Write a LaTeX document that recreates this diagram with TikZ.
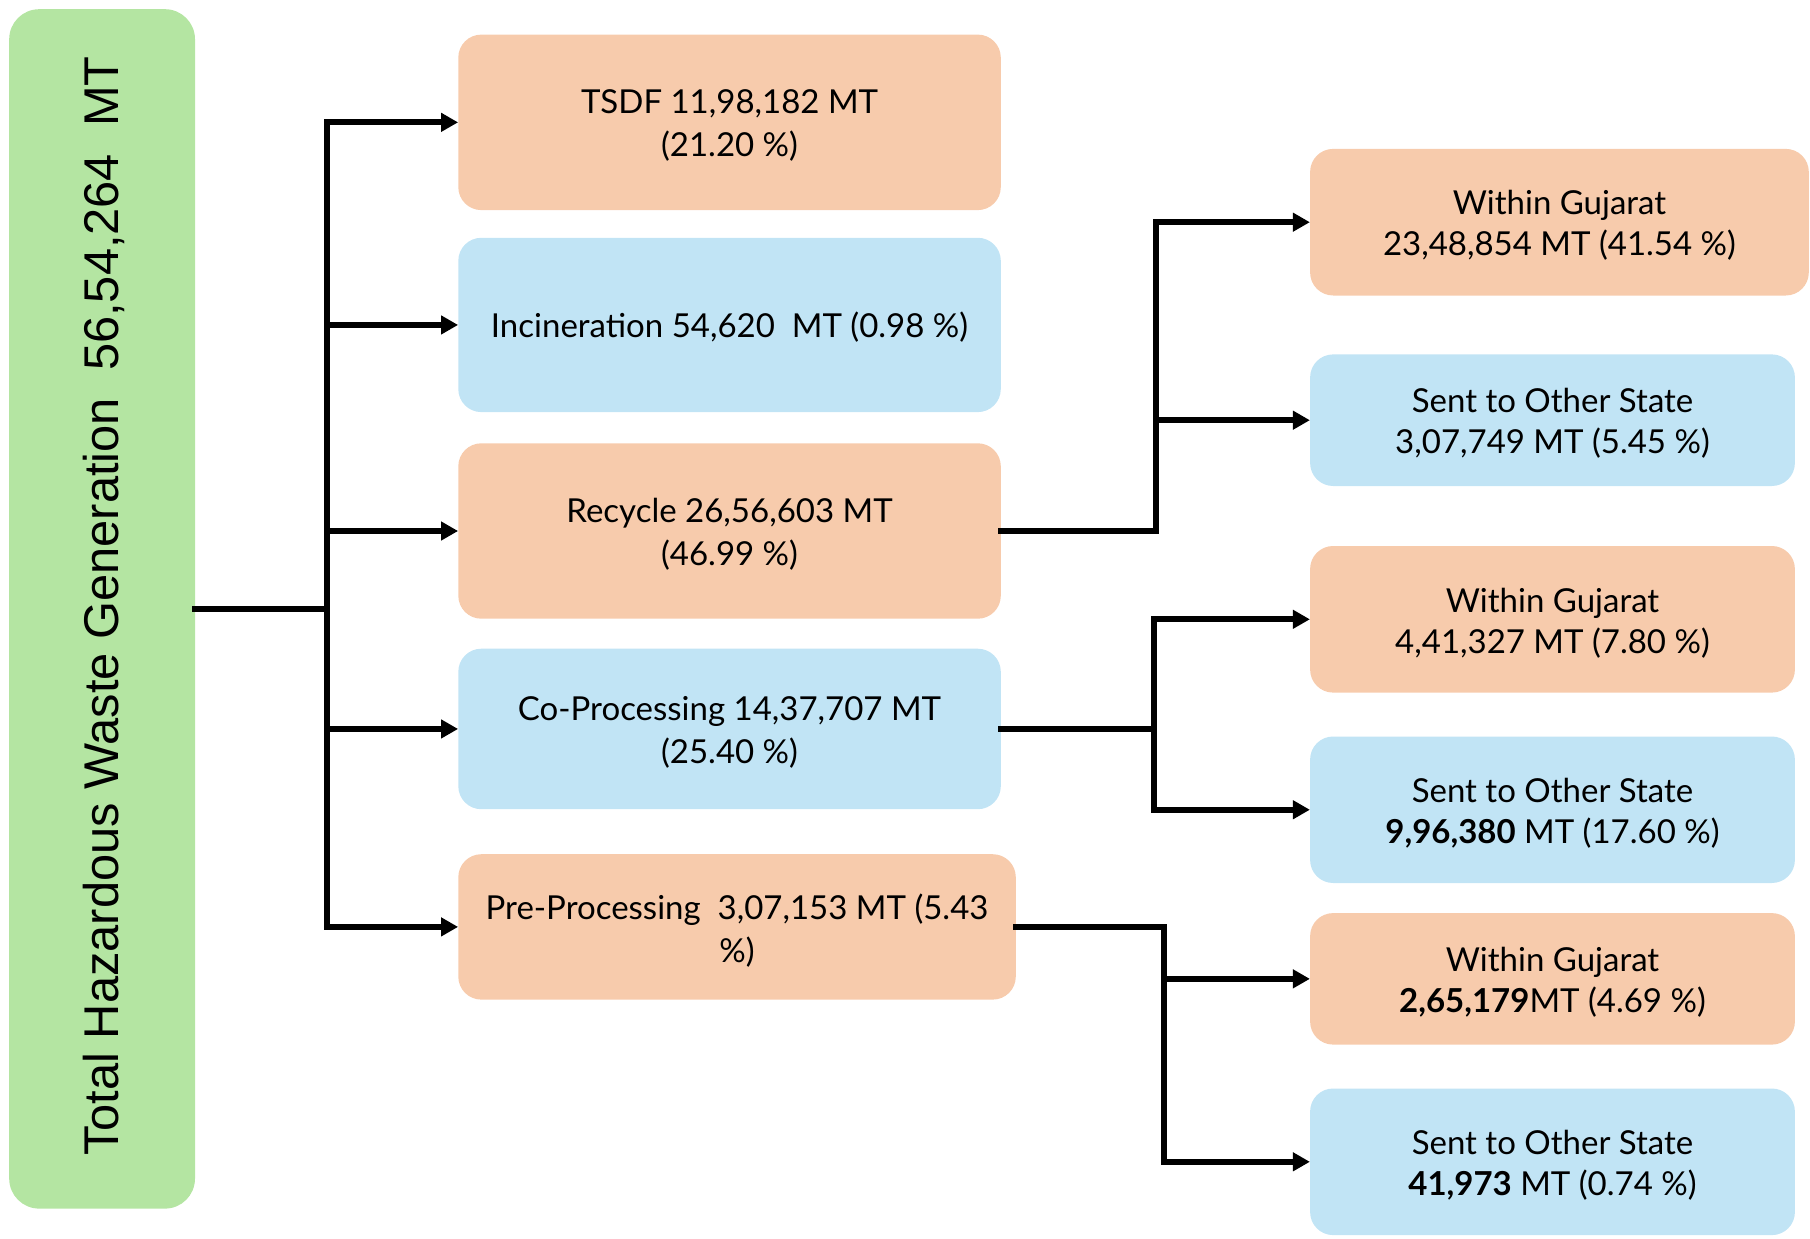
\documentclass[tikz,border=0pt]{standalone}
\usepackage{fontspec}
\usepackage{graphicx}
\setmainfont{Lato}
\newfontfamily\titlefont{Liberation Sans}
\usetikzlibrary{arrows.meta}
\definecolor{peach}{HTML}{F7CBAC}
\definecolor{sky}{HTML}{C1E4F5}
\definecolor{leaf}{HTML}{B4E5A2}
\begin{document}
\begin{tikzpicture}[x=1pt,y=-1pt,
  box/.style={rounded corners=23pt, inner sep=0pt},
  txt/.style={yshift=-3.5pt, inner sep=0pt, align=center,
    font=\fontsize{33}{43}\selectfont},
  sidetxt/.style={txt, font=\fontsize{33}{41}\selectfont},
  link/.style={line width=6pt, line cap=rect, line join=miter},
  arrowlink/.style={line width=6pt, -{Triangle[length=17pt,width=18pt]}}]
\useasboundingbox (0,0) rectangle (1810,1239);

% total generation
\node[box, rounded corners=30pt, fill=leaf, minimum width=185.8pt, minimum height=1199.4pt,
  label={[xshift=2pt, yshift=3pt, inner sep=0pt]center:{\rotatebox{90}{\titlefont\fontsize{48.8}{56}\selectfont Total Hazardous Waste Generation\ \ 56,54,264\ \ MT}}}]
  (total) at (102.1,608.9) {};

% disposal routes
\node[box, fill=peach, minimum width=542.5pt, minimum height=175.5pt,
  label={[txt]center:{TSDF 11,98,182 MT\\(21.20 \%)}}] (tsdf) at (729.55,122.35) {};
\node[box, fill=sky, minimum width=542.5pt, minimum height=174.3pt,
  label={[txt, yshift=1.5pt]center:{Incineration 54,620\ \ MT (0.98 \%)}}] (inc) at (729.55,324.95) {};
\node[box, fill=peach, minimum width=542.5pt, minimum height=175.4pt,
  label={[txt]center:{Recycle 26,56,603 MT\\(46.99 \%)}}] (rec) at (729.55,531) {};
\node[box, fill=sky, minimum width=542.5pt, minimum height=160.5pt,
  label={[txt]center:{Co-Processing 14,37,707 MT\\(25.40 \%)}}] (cop) at (729.55,728.95) {};
\node[box, fill=peach, minimum width=557.5pt, minimum height=145.4pt,
  label={[txt]center:{Pre-Processing\ \ 3,07,153 MT (5.43\\\%)}}] (pre) at (737.05,926.9) {};

% destinations
\node[box, fill=peach, minimum width=498.7pt, minimum height=146.6pt,
  label={[sidetxt]center:{Within Gujarat\\23,48,854 MT (41.54 \%)}}] (wg1) at (1559.45,222.2) {};
\node[box, fill=sky, minimum width=484.8pt, minimum height=131.6pt,
  label={[sidetxt]center:{Sent to Other State\\3,07,749 MT (5.45 \%)}}] (os1) at (1552.5,420.2) {};
\node[box, fill=peach, minimum width=484.8pt, minimum height=146.6pt,
  label={[sidetxt]center:{Within Gujarat\\4,41,327 MT (7.80 \%)}}] (wg2) at (1552.5,619.3) {};
\node[box, fill=sky, minimum width=484.8pt, minimum height=146.5pt,
  label={[sidetxt]center:{Sent to Other State\\\textbf{9,96,380} MT (17.60 \%)}}] (os2) at (1552.5,809.75) {};
\node[box, fill=peach, minimum width=484.8pt, minimum height=131.5pt,
  label={[sidetxt]center:{Within Gujarat\\\textbf{2,65,179}MT (4.69 \%)}}] (wg3) at (1552.5,978.85) {};
\node[box, fill=sky, minimum width=484.8pt, minimum height=146.6pt,
  label={[sidetxt]center:{Sent to Other State\\\textbf{41,973} MT (0.74 \%)}}] (os3) at (1552.5,1161.8) {};

% junction columns
\coordinate (hub) at (326.7,0);
\coordinate (rj) at (1155.5,0);
\coordinate (cj) at (1154.3,0);
\coordinate (pj) at (1163.5,0);

% main split
\draw[link] (total.east) -- (hub |- total.east);
\draw[link] (hub |- tsdf.west) -- (hub |- pre.west);
\foreach \n in {tsdf,inc,rec,cop,pre}
  \draw[arrowlink] (hub |- \n.west) -- (\n.west);

% recycle split
\draw[link] (rec.east) -| (rj |- wg1.west);
\draw[arrowlink] (rj |- wg1.west) -- (wg1.west);
\draw[arrowlink] (rj |- os1.west) -- (os1.west);

% co-processing split
\draw[link] (cop.east) -- (cj |- cop.east);
\draw[link] (cj |- wg2.west) -- (cj |- os2.west);
\draw[arrowlink] (cj |- wg2.west) -- (wg2.west);
\draw[arrowlink] (cj |- os2.west) -- (os2.west);

% pre-processing split
\draw[link] (pre.east) -| (pj |- os3.west);
\draw[arrowlink] (pj |- wg3.west) -- (wg3.west);
\draw[arrowlink] (pj |- os3.west) -- (os3.west);
\end{tikzpicture}
\end{document}
